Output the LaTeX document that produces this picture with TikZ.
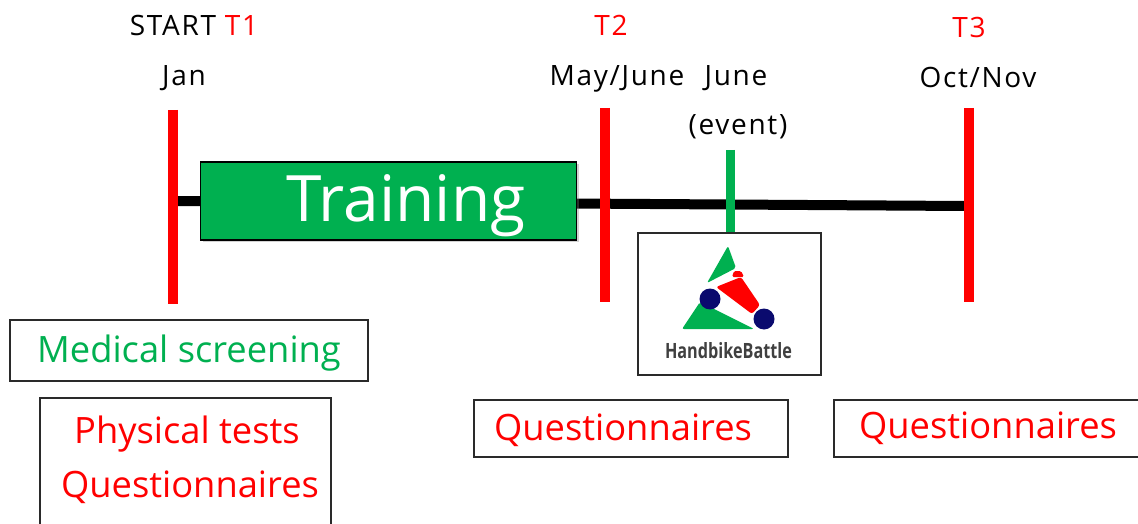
\documentclass[tikz,border=0pt]{standalone}
\usepackage{fontspec}
\setmainfont{Open Sans}
\newfontfamily\tracked[LetterSpace=6]{Open Sans}
\usetikzlibrary{shadows}
\definecolor{ored}{HTML}{FF0000}
\definecolor{ogreen}{HTML}{00B050}
\definecolor{navy}{HTML}{0A0A6E}
\definecolor{boxline}{HTML}{2A2A2A}
\tikzset{
  x=1pt, y=-1pt,
  redbar/.style={draw=ored, line width=10pt},
  greenbar/.style={draw=ogreen, line width=9pt},
  timeline/.style={draw=black, line width=10pt},
  framebox/.style={draw=boxline, line width=1.6pt, fill=white},
  toplabel/.style={font=\fontsize{28}{32}\selectfont\tracked, anchor=base, inner sep=0},
  boxtext/.style={font=\fontsize{36.3}{40}\selectfont, anchor=base, inner sep=0},
}
\begin{document}
\begin{tikzpicture}
\clip (0,0) rectangle (1138,524);
\fill[white] (0,0) rectangle (1138,524);

% timeline
\coordinate (L0) at (178,201);
\coordinate (L1) at (965,206);
\draw[timeline] (L0) -- (L1);

% training box
\node[draw=black, line width=1.2pt, fill=ogreen, minimum width=376pt, minimum height=78pt,
      drop shadow={opacity=0.35, shadow xshift=2pt, shadow yshift=-2pt}, inner sep=0] (train) at (388.5,201) {};
\node[font=\fontsize{64}{70}\selectfont, text=white, anchor=base, inner sep=0] (traintext) at (406,221) {Training};

% bars
\coordinate (T1a) at (173,110); \coordinate (T1b) at (173,304);
\coordinate (T2a) at (605,108); \coordinate (T2b) at (605,302);
\coordinate (T3a) at (969,108); \coordinate (T3b) at (969,302);
\coordinate (Ea) at (730,150); \coordinate (Eb) at (730,234);
\draw[redbar] (T1a) -- (T1b);
\draw[redbar] (T2a) -- (T2b);
\draw[redbar] (T3a) -- (T3b);
\draw[greenbar] (Ea) -- (Eb);

% top labels
\node[toplabel] (start) at (194,36) {START \textcolor{ored}{T1}};
\node[toplabel] (jan) at (184,86) {Jan};
\node[toplabel, text=ored] (t2) at (611,36) {T2};
\node[toplabel] (may) at (617,86) {May/June};
\node[toplabel] (june) at (736,86) {June};
\node[toplabel] (event) at (738,135) {(event)};
\node[toplabel, text=ored] (t3) at (969,38) {T3};
\node[toplabel] (oct) at (978,88) {Oct/Nov};

% logo box
\node[framebox, minimum width=183pt, minimum height=142pt, inner sep=0] (logo) at (729.5,304) {};
\fill[ogreen, rounded corners=2pt] (728,246) -- (736,268) -- (707,283) -- cycle;
\fill[ored, rounded corners=1.5pt] (732,277) -- (734,271) -- (741,271) -- (744,277) -- cycle;
\fill[ored, rounded corners=2.5pt] (716,287) -- (741,277) -- (760,305) -- (752,314) -- cycle;
\fill[ogreen, rounded corners=2pt] (700,302) -- (754,329) -- (682,329) -- cycle;
\fill[navy] (710,299) circle (10.5);
\fill[navy] (764,319) circle (10.5);
\node[text=black!75, inner sep=0, anchor=base] (hb) at (728.5,358)
  {\resizebox{127pt}{16pt}{\bfseries HandbikeBattle}};

% boxes bottom
\node[framebox, minimum width=358pt, minimum height=61pt, inner sep=0] (med) at (189,350.5) {};
\node[boxtext, text=ogreen] (medt) at (189,362) {Medical screening};

\draw[framebox] (40,398) rectangle (331,540);
\coordinate (phys) at (187,443);
\node[boxtext, text=ored] (physt) at (187,443) {Physical tests};
\node[boxtext, text=ored] (q1) at (190,497) {Questionnaires};

\node[framebox, minimum width=314pt, minimum height=57pt, inner sep=0] (qb2) at (631,428.5) {};
\node[boxtext, text=ored] (q2) at (623,440) {Questionnaires};

\node[framebox, minimum width=312pt, minimum height=57pt, inner sep=0] (qb3) at (990,428.5) {};
\node[boxtext, text=ored] (q3) at (988,438) {Questionnaires};
\end{tikzpicture}
\end{document}
